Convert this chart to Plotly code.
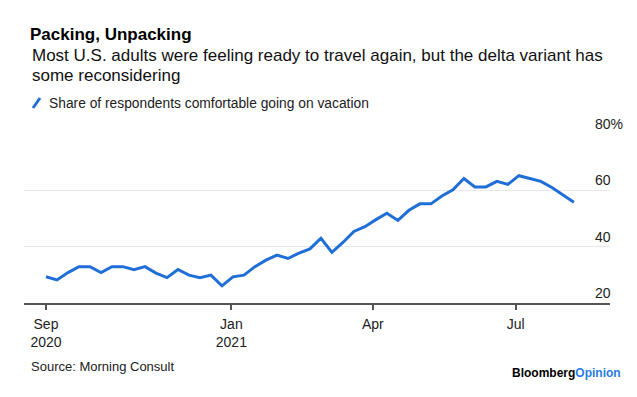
import pandas as pd
import plotly.graph_objects as go

# ---- data ----
start_date = "2020-09-05"
n_weeks = 49
share_comfortable = [
    29.3, 28.2, 30.8, 32.9, 32.9, 30.8, 32.9, 32.9, 31.8, 32.9,
    30.6, 29.0, 31.9, 29.9, 29.0, 29.9, 26.1, 29.3, 29.9, 32.9,
    35.2, 37.0, 35.8, 37.7, 39.2, 43.0, 38.0, 41.5, 45.4, 47.1,
    49.6, 51.9, 49.3, 52.9, 55.2, 55.2, 58.0, 60.2, 64.2, 61.2,
    61.2, 63.2, 62.1, 65.2, 64.2, 63.2, 61.0, 58.5, 55.8,
]
dates = pd.date_range(start_date, periods=n_weeks, freq="7D")

x_tickvals = [start_date, "2021-01-01", "2021-04-01", "2021-07-01"]
x_ticktext = ["Sep<br>2020", "Jan<br>2021", "Apr", "Jul"]
y_tickvals = [20, 40, 60, 80]
y_ticktext = ["20", "40", "60", "80%"]

title_text = "Packing, Unpacking"
subtitle_lines = [
    "Most U.S. adults were feeling ready to travel again, but the delta variant has",
    "some reconsidering",
]
legend_text = "Share of respondents comfortable going on vacation"
source_text = "Source: Morning Consult"

FONT = "Liberation Sans, Arial, sans-serif"
BLUE = "#1f6fd6"

# page body has an 8px margin; lay out in page pixels and subtract it
OFF = 8
W, H = 637 - OFF, 397 - OFF


def px(x):
    return x - OFF


L = px(24)
R = W - px(610)
T = px(134)
B = H - px(303)
plot_w = W - L - R
plot_h = H - T - B


def xp(x):  # page x -> paper x
    return (px(x) - L) / plot_w


def yp(y):  # page y -> paper y
    return 1 - (px(y) - T) / plot_h


fig = go.Figure()
fig.add_trace(go.Scatter(
    x=dates, y=share_comfortable, mode="lines",
    line=dict(color=BLUE, width=3), showlegend=False,
    hoverinfo="skip",
))

fig.update_layout(
    width=W, height=H,
    margin=dict(l=L, r=R, t=T, b=B),
    paper_bgcolor="white", plot_bgcolor="white",
    font=dict(family=FONT, color="#222"),
    title=dict(
        text="<b>" + title_text + "</b>",
        x=px(30) / W, xref="container", xanchor="left",
        y=1 - px(34) / H, yref="container", yanchor="middle",
        font=dict(size=17, color="#000", family=FONT),
    ),
    xaxis=dict(
        type="date",
        range=["2020-08-22", "2021-08-30"],
        tickvals=x_tickvals, ticktext=x_ticktext,
        showgrid=False, zeroline=False,
        showline=True, linecolor="#555", linewidth=1.5,
        ticks="outside", ticklen=5, tickcolor="#555", tickwidth=1.5,
        ticklabelstandoff=2,
        tickfont=dict(size=14, color="#222", family=FONT),
    ),
    yaxis=dict(
        range=[20, 80], side="right",
        tickvals=y_tickvals, ticktext=y_ticktext,
        showgrid=True, gridcolor="#e8e8e8", gridwidth=1,
        zeroline=False, showline=False, ticks="",
        ticklabelposition="outside top",
        ticklabelstandoff=-16,
        tickfont=dict(size=14, color="#222", family=FONT),
    ),
)

# subtitle (two lines)
for line_text, yc in zip(subtitle_lines, [55.5, 75.0]):
    fig.add_annotation(
        text=line_text, xref="paper", yref="paper",
        x=xp(29.5), y=yp(yc),
        xanchor="left", yanchor="middle", align="left", showarrow=False,
        font=dict(size=17, color="#111", family=FONT),
    )
# legend text + slash icon
fig.add_annotation(
    text=legend_text, xref="paper", yref="paper",
    x=xp(47), y=yp(103),
    xanchor="left", yanchor="middle", showarrow=False,
    font=dict(size=13.8, color="#222", family=FONT),
)
fig.add_shape(
    type="line", xref="paper", yref="paper",
    x0=xp(33), y0=yp(108), x1=xp(40), y1=yp(98),
    line=dict(color=BLUE, width=3),
)
# source
fig.add_annotation(
    text=source_text, xref="paper", yref="paper",
    x=xp(29), y=yp(366),
    xanchor="left", yanchor="middle", showarrow=False,
    font=dict(size=13, color="#222", family=FONT),
)
# branding
fig.add_annotation(
    text="<b>Bloomberg</b><b><span style='color:#2a7de1'>Opinion</span></b>",
    xref="paper", yref="paper",
    x=xp(623), y=yp(373),
    xanchor="right", yanchor="middle", showarrow=False,
    font=dict(size=12, color="#000", family=FONT),
)

fig.write_html("out.html")
